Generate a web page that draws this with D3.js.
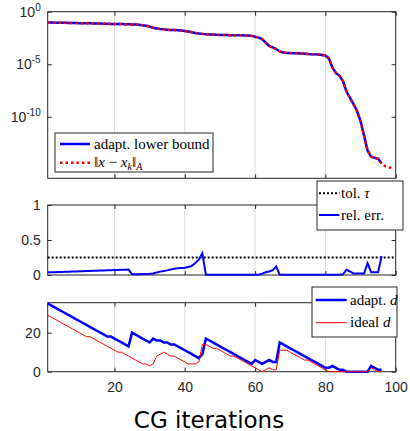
<!DOCTYPE html>
<html>
<head>
<meta charset="utf-8">
<script src="https://cdn.jsdelivr.net/npm/d3@7"></script>
<style>
  body { margin: 0; background: #fff; }
  svg { display: block; }
  .tick text { font-family: "Liberation Sans", Arial, sans-serif; font-size: 14px; fill: #262626; }
  .leg { font-family: "Liberation Serif", "DejaVu Serif", serif; font-size: 15px; fill: #000; }
</style>
</head>
<body>
<svg id="chart" width="410" height="431"></svg>
<script>
// error norm, log10 exponent per CG iteration (red goes 1..99, bound 1..96)
var errLog10 = [-1.02,-1.03,-1.04,-1.05,-1.05,-1.06,-1.07,-1.07,-1.08,-1.09,
  -1.10,-1.10,-1.11,-1.12,-1.13,-1.13,-1.14,-1.15,-1.16,-1.17,
  -1.18,-1.18,-1.19,-1.20,-1.21,-1.22,-1.24,-1.28,-1.33,-1.42,
  -1.52,-1.60,-1.65,-1.68,-1.71,-1.73,-1.75,-1.77,-1.80,-1.83,
  -1.88,-1.95,-2.02,-2.07,-2.11,-2.14,-2.16,-2.18,-2.20,-2.21,
  -2.22,-2.22,-2.23,-2.23,-2.24,-2.25,-2.26,-2.27,-2.30,-2.38,
  -2.47,-2.60,-2.95,-3.25,-3.40,-3.55,-3.78,-3.88,-3.92,-3.94,
  -3.95,-3.96,-3.98,-4.00,-4.02,-4.04,-4.06,-4.08,-4.11,-4.17,
  -4.45,-5.30,-5.85,-6.10,-6.60,-7.60,-8.20,-8.80,-9.45,-10.40,
  -11.80,-13.20,-13.80,-13.90,-14.00,-14.45,-14.70,-14.82,-14.86];
var boundLog10 = errLog10.slice(0, 96);

var relErr = [0.038,0.040,0.041,0.043,0.044,0.046,0.047,0.049,0.050,0.052,
  0.054,0.056,0.058,0.060,0.062,0.064,0.066,0.068,0.069,0.071,
  0.072,0.074,0.076,0.078,0.010,0.011,0.012,0.014,0.016,0.018,
  0.022,0.035,0.048,0.058,0.066,0.078,0.088,0.095,0.100,0.105,
  0.115,0.130,0.170,0.220,0.310,0.003,0.003,0.003,0.003,0.003,
  0.003,0.003,0.003,0.003,0.003,0.003,0.003,0.003,0.003,0.003,
  0.005,0.020,0.040,0.050,0.070,0.120,0.005,0.003,0.003,0.003,
  0.003,0.003,0.003,0.003,0.003,0.003,0.003,0.003,0.003,0.003,
  0.003,0.003,0.003,0.003,0.010,0.075,0.050,0.020,0.020,0.020,
  0.020,0.170,0.040,0.040,0.040,0.270];
var tol = 0.25;

var adaptD = [35,34,33,32,31,30,29,28,27,26,25,24,23,22,21,20,19,18,18,17,
  16,15,14,13,20,19,18,17,16,15,17,16,16,15,15,14,14,13,12,11,
  10,9,8,7,9,17,16,15,14,13,12,11,10,9,8,7,6,5,4,6,
  5,4,5,6,5,5,15,14,13,12,11,10,9,8,7,6,5,4,3,2,
  2,3,2,1,1,0,0,0,0,0,0,0,3,2,1,1];
var idealD = [29,28,27,26,25,24,23,22,21,20,19,18,18,17,16,15,14,13,12,11,
  10,10,9,8,7,6,5,4,4,3,4,8,9,10,9,8,8,7,6,5,
  4,4,4,5,14,14,13,12,12,11,10,9,8,8,7,6,5,4,3,2,
  1,0,1,2,1,1,11,11,11,10,9,8,7,6,6,5,4,3,2,1,
  0,0,0,0,0,0,0,0,0,0,0,0,2,1,0,0];

var xTicks = [20, 40, 60, 80, 100];

var svg = d3.select("#chart");
var L = 47.7, R = 395.7;
var x = d3.scaleLinear().domain([1, 100]).range([L, R]);

var panels = [
  { top: 11.7, bot: 178.3 },
  { top: 205, bot: 275 },
  { top: 302.7, bot: 371.7 }
];

var yTop = d3.scaleLog().domain([Math.pow(10, -15.85), 1]).range([panels[0].bot, panels[0].top]);
var yMid = d3.scaleLinear().domain([0, 1]).range([panels[1].bot, panels[1].top]);
var yBot = d3.scaleLinear().domain([0, 35.4]).range([panels[2].bot, panels[2].top]);

function frame(p, y, yticks, fmt, showX) {
  var g = svg.append("g");
  // vertical grid
  g.selectAll("line.grid").data([20, 40, 60, 80]).join("line")
    .attr("x1", d => x(d)).attr("x2", d => x(d))
    .attr("y1", p.top).attr("y2", p.bot)
    .style("stroke", "#dcdcdc").style("stroke-width", 1);
  g.append("g").attr("transform", "translate(0," + p.bot + ")")
    .call(d3.axisBottom(x).tickValues(xTicks).tickSizeInner(-4).tickSizeOuter(0).tickPadding(10)
      .tickFormat(showX ? d3.format("d") : ""));
  g.append("g").attr("transform", "translate(0," + p.top + ")")
    .call(d3.axisTop(x).tickValues(xTicks).tickSizeInner(-4).tickSizeOuter(0).tickFormat(""));
  var left = g.append("g").attr("transform", "translate(" + L + ",0)")
    .call(d3.axisLeft(y).tickValues(yticks).tickSizeInner(-4).tickSizeOuter(0).tickPadding(7).tickFormat(fmt));
  g.append("g").attr("transform", "translate(" + R + ",0)")
    .call(d3.axisRight(y).tickValues(yticks).tickSizeInner(-4).tickSizeOuter(0).tickFormat(""));
  g.selectAll(".domain").remove();
  g.selectAll(".tick line").style("stroke", "#262626");
  g.append("rect").attr("x", L).attr("y", p.top).attr("width", R - L).attr("height", p.bot - p.top)
    .style("fill", "none").style("stroke", "#262626").style("stroke-width", 1);
  return { g: g, left: left };
}

// ---- top panel: error and lower bound
var f1 = frame(panels[0], yTop, [1, 1e-5, 1e-10], "", false);
f1.left.selectAll(".tick text").each(function(d) {
  var t = d3.select(this).text("");
  t.append("tspan").text("10");
  t.append("tspan").attr("dy", -6).style("font-size", "10px").text(Math.round(Math.log10(d)) === 0 ? "0" : "-" + Math.round(-Math.log10(d)));
});

var lineTop = d3.line().x((d, i) => x(i + 1)).y(d => yTop(Math.pow(10, d)));
svg.append("path").datum(boundLog10).attr("d", lineTop)
  .style("fill", "none").style("stroke", "#0000ff").style("stroke-width", 2.5);
svg.append("path").datum(errLog10).attr("d", lineTop)
  .style("fill", "none").style("stroke", "#ff0000").style("stroke-width", 2.5).style("stroke-dasharray", "2.5,3");

// ---- middle panel: relative error
var f2 = frame(panels[1], yMid, [0, 0.5, 1], d => d === 0.5 ? "0.5" : d3.format("d")(d), false);
svg.append("line").attr("x1", L).attr("x2", R).attr("y1", yMid(tol)).attr("y2", yMid(tol))
  .style("stroke", "#000").style("stroke-width", 2).style("stroke-dasharray", "2,2");
var lineMid = d3.line().x((d, i) => x(i + 1)).y(d => yMid(d));
svg.append("path").datum(relErr).attr("d", lineMid)
  .style("fill", "none").style("stroke", "#0000ff").style("stroke-width", 2);

// ---- bottom panel: delay d
var f3 = frame(panels[2], yBot, [0, 20], d3.format("d"), true);
var lineBot = d3.line().x((d, i) => x(i + 1)).y(d => yBot(d));
svg.append("path").datum(adaptD).attr("d", lineBot)
  .style("fill", "none").style("stroke", "#0000ff").style("stroke-width", 2.5);
svg.append("path").datum(idealD).attr("d", lineBot)
  .style("fill", "none").style("stroke", "#ff0000").style("stroke-width", 1);

svg.append("text").attr("x", 209).attr("y", 427.5).attr("text-anchor", "middle")
  .style("font-family", "'DejaVu Sans', sans-serif").style("font-size", "23px").style("fill", "#000")
  .text("CG iterations");

// ---- legends
function legendBox(x0, y0, w, h) {
  svg.append("rect").attr("x", x0).attr("y", y0).attr("width", w).attr("height", h)
    .style("fill", "#fff").style("stroke", "#262626").style("stroke-width", 1);
}
function sample(x1, x2, y, color, width, dash) {
  svg.append("line").attr("x1", x1).attr("x2", x2).attr("y1", y).attr("y2", y)
    .style("stroke", color).style("stroke-width", width).style("stroke-dasharray", dash || null);
}

legendBox(55, 133, 158, 39);
sample(60, 90, 144, "#0000ff", 2.5);
svg.append("text").attr("class", "leg").attr("x", 94).attr("y", 148.8).text("adapt. lower bound");
sample(60, 90, 162.7, "#ff0000", 2.5, "2.5,3");
var m = svg.append("text").attr("class", "leg").attr("x", 94).attr("y", 167.3);
m.append("tspan").text("\u2016");
m.append("tspan").style("font-style", "italic").text("x");
m.append("tspan").text(" \u2212 ");
m.append("tspan").style("font-style", "italic").text("x");
m.append("tspan").attr("dy", 3).style("font-size", "10px").style("font-style", "italic").text("k");
m.append("tspan").attr("dy", -3).text("\u2016");
m.append("tspan").attr("dy", 3).style("font-size", "10px").style("font-style", "italic").text("A");

legendBox(317, 181, 86, 49);
sample(319, 339.5, 193.3, "#000", 2, "2,2");
var t1 = svg.append("text").attr("class", "leg").attr("x", 341).attr("y", 198);
t1.append("tspan").text("tol. ");
t1.append("tspan").style("font-style", "italic").text("\u03c4");
sample(319, 339.5, 215, "#0000ff", 2);
svg.append("text").attr("class", "leg").attr("x", 341).attr("y", 219.7).text("rel. err.");

legendBox(312, 287, 85, 50);
sample(315.7, 346.7, 300, "#0000ff", 2.5);
var t2 = svg.append("text").attr("class", "leg").attr("x", 350).attr("y", 304.7);
t2.append("tspan").text("adapt. ");
t2.append("tspan").style("font-style", "italic").text("d");
sample(315.7, 346.7, 322.7, "#ff0000", 1);
var t3 = svg.append("text").attr("class", "leg").attr("x", 350).attr("y", 327.4);
t3.append("tspan").text("ideal ");
t3.append("tspan").style("font-style", "italic").text("d");
</script>
</body>
</html>
